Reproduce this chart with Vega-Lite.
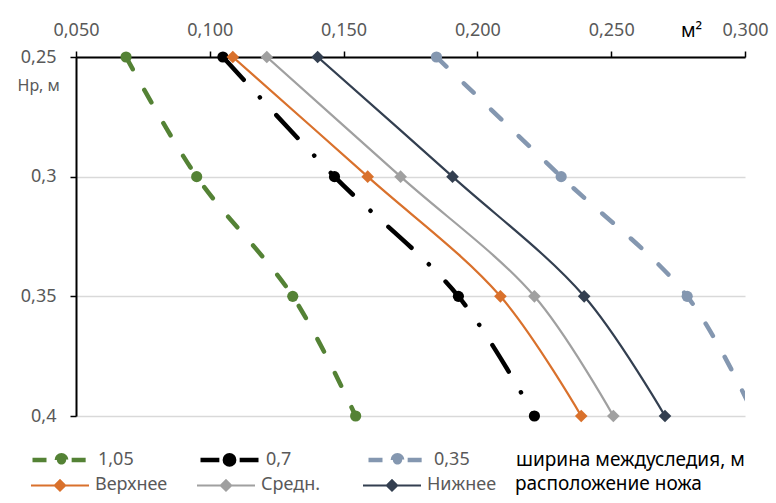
{
  "$schema": "https://vega.github.io/schema/vega-lite/v6.json",
  "width": 669,
  "height": 359,
  "autosize": {"type": "none"},
  "padding": {"left": 76, "top": 57, "right": 31, "bottom": 87},
  "background": "white",
  "config": {
    "font": "Noto Sans",
    "view": {"stroke": null}
  },
  "datasets": {
    "w": [
      {"s": "1,05", "x": 0.0687, "y": 0.25},
      {"s": "1,05", "x": 0.0951, "y": 0.30},
      {"s": "1,05", "x": 0.1310, "y": 0.35},
      {"s": "1,05", "x": 0.1545, "y": 0.40},
      {"s": "0,7", "x": 0.1049, "y": 0.25},
      {"s": "0,7", "x": 0.1466, "y": 0.30},
      {"s": "0,7", "x": 0.1929, "y": 0.35},
      {"s": "0,7", "x": 0.2213, "y": 0.40},
      {"s": "0,35", "x": 0.1847, "y": 0.25},
      {"s": "0,35", "x": 0.2313, "y": 0.30},
      {"s": "0,35", "x": 0.2784, "y": 0.35},
      {"s": "0,35", "x": 0.3035, "y": 0.40}
    ],
    "k": [
      {"p": "Верхнее", "x": 0.1086, "y": 0.25},
      {"p": "Верхнее", "x": 0.1590, "y": 0.30},
      {"p": "Верхнее", "x": 0.2086, "y": 0.35},
      {"p": "Верхнее", "x": 0.2388, "y": 0.40},
      {"p": "Средн.", "x": 0.1213, "y": 0.25},
      {"p": "Средн.", "x": 0.1713, "y": 0.30},
      {"p": "Средн.", "x": 0.2213, "y": 0.35},
      {"p": "Средн.", "x": 0.2508, "y": 0.40},
      {"p": "Нижнее", "x": 0.1403, "y": 0.25},
      {"p": "Нижнее", "x": 0.1907, "y": 0.30},
      {"p": "Нижнее", "x": 0.2399, "y": 0.35},
      {"p": "Нижнее", "x": 0.2701, "y": 0.40}
    ]
  },
  "encoding": {
    "x": {
      "field": "x", "type": "quantitative",
      "scale": {"domain": [0.05, 0.3], "nice": false, "zero": false},
      "axis": {
        "orient": "top",
        "values": [0.05, 0.1, 0.15, 0.2, 0.25, 0.3],
        "labelExpr": "replace(format(datum.value, '.3f'), '.', ',')",
        "labelFlush": false, "labelOverlap": false,
        "grid": false,
        "domainColor": "black", "domainWidth": 2,
        "tickColor": "black", "tickWidth": 1.5, "tickSize": 6,
        "encode": {"ticks": {"update": {"y": {"value": 6}}}},
        "labelColor": "#595959", "labelFontSize": 18, "labelPadding": 12,
        "title": "м²", "titleColor": "black", "titleFontSize": 19, "titleFontWeight": "normal",
        "titleAngle": 0, "titleX": 615, "titleY": -27, "titleAlign": "center", "titleBaseline": "middle"
      }
    },
    "y": {
      "field": "y", "type": "quantitative",
      "scale": {"domain": [0.25, 0.4], "reverse": true, "nice": false, "zero": false},
      "axis": {
        "orient": "left",
        "values": [0.25, 0.3, 0.35, 0.4],
        "labelExpr": "replace(format(datum.value, '.2~f'), '.', ',')",
        "labelFlush": false, "labelOverlap": false,
        "grid": true, "gridColor": "#d9d9d9", "gridWidth": 1.5,
        "domainColor": "black", "domainWidth": 2,
        "tickColor": "black", "tickWidth": 1.5, "tickSize": 6,
        "encode": {"ticks": {"update": {"x": {"value": 6}}}},
        "labelColor": "#595959", "labelFontSize": 18, "labelPadding": 14,
        "title": "Нр, м", "titleColor": "#595959", "titleFontSize": 16, "titleFontWeight": "normal",
        "titleAngle": 0, "titleX": -59, "titleY": 28, "titleAlign": "left", "titleBaseline": "middle"
      }
    }
  },
  "layer": [
    {
      "data": {"name": "w"},
      "layer": [
        {
          "mark": {"type": "line", "interpolate": "catmull-rom", "strokeWidth": 4.5, "strokeCap": "round", "clip": true},
          "encoding": {
            "stroke": {
              "field": "s", "type": "nominal",
              "scale": {"domain": ["1,05", "0,7", "0,35"], "range": ["#548235", "#000000", "#8497B0"]},
              "legend": {
                "orient": "none", "legendX": -46, "legendY": 371,
                "direction": "horizontal", "columns": 3, "gridAlign": "all", "columnPadding": 57,
                "title": "ширина междуследия, м", "titleOrient": "right", "titlePadding": 46, "titleLimit": 400,
                "titleAnchor": "middle", "titleBaseline": "top",
                "titleColor": "black", "titleFontSize": 19, "titleFontWeight": "normal",
                "labelColor": "#595959", "labelFontSize": 18, "labelOffset": 5,
                "symbolType": "M-1,0H-0.35M0.35,0H1M-0.16,0A0.16,0.16,0,1,1,0.16,0A0.16,0.16,0,1,1,-0.16,0Z",
                "symbolSize": 3364, "symbolStrokeWidth": 4.5
              }
            },
            "strokeDash": {
              "field": "s", "type": "nominal",
              "scale": {"domain": ["1,05", "0,7", "0,35"], "range": [[14, 24], [31, 24, 0.1, 24], [14, 24]]},
              "legend": null
            }
          }
        },
        {
          "transform": [{"filter": "datum.x <= 0.3"}],
          "mark": {"type": "point", "shape": "circle", "filled": true, "size": 125, "opacity": 1, "clip": false},
          "encoding": {
            "fill": {
              "field": "s", "type": "nominal",
              "scale": {"domain": ["1,05", "0,7", "0,35"], "range": ["#548235", "#000000", "#8497B0"]},
              "legend": {
                "orient": "none", "legendX": -46, "legendY": 371,
                "direction": "horizontal", "columns": 3, "gridAlign": "all", "columnPadding": 57,
                "title": "ширина междуследия, м", "titleOrient": "right", "titlePadding": 46, "titleLimit": 400,
                "titleAnchor": "middle", "titleBaseline": "top",
                "titleColor": "black", "titleFontSize": 19, "titleFontWeight": "normal",
                "labelColor": "#595959", "labelFontSize": 18, "labelOffset": 5,
                "symbolType": "M-1,0H-0.35M0.35,0H1M-0.16,0A0.16,0.16,0,1,1,0.16,0A0.16,0.16,0,1,1,-0.16,0Z",
                "symbolSize": 3364, "symbolStrokeWidth": 4.5
              }
            }
          }
        }
      ]
    },
    {
      "data": {"name": "k"},
      "layer": [
        {
          "mark": {"type": "line", "interpolate": "catmull-rom", "strokeWidth": 2.2, "clip": true},
          "encoding": {
            "stroke": {
              "field": "p", "type": "nominal",
              "scale": {"domain": ["Верхнее", "Средн.", "Нижнее"], "range": ["#D9712C", "#A0A0A0", "#333F50"]},
              "legend": {
                "orient": "none", "legendX": -46, "legendY": 398,
                "direction": "horizontal", "columns": 3, "gridAlign": "all", "columnPadding": 25,
                "title": "расположение ножа", "titleOrient": "right", "titlePadding": 19, "titleLimit": 400,
                "titleAnchor": "middle", "titleBaseline": "top",
                "titleColor": "black", "titleFontSize": 19, "titleFontWeight": "normal",
                "labelColor": "#595959", "labelFontSize": 18, "labelOffset": 5,
                "symbolType": "M-1,0H1M0,-0.18L0.18,0L0,0.18L-0.18,0Z",
                "symbolSize": 3364, "symbolStrokeWidth": 2
              }
            }
          }
        },
        {
          "mark": {"type": "point", "shape": "diamond", "filled": true, "size": 160, "opacity": 1, "clip": false},
          "encoding": {
            "fill": {
              "field": "p", "type": "nominal",
              "scale": {"domain": ["Верхнее", "Средн.", "Нижнее"], "range": ["#D9712C", "#A0A0A0", "#333F50"]},
              "legend": {
                "orient": "none", "legendX": -46, "legendY": 398,
                "direction": "horizontal", "columns": 3, "gridAlign": "all", "columnPadding": 25,
                "title": "расположение ножа", "titleOrient": "right", "titlePadding": 19, "titleLimit": 400,
                "titleAnchor": "middle", "titleBaseline": "top",
                "titleColor": "black", "titleFontSize": 19, "titleFontWeight": "normal",
                "labelColor": "#595959", "labelFontSize": 18, "labelOffset": 5,
                "symbolType": "M-1,0H1M0,-0.18L0.18,0L0,0.18L-0.18,0Z",
                "symbolSize": 3364, "symbolStrokeWidth": 2
              }
            }
          }
        }
      ]
    }
  ],
  "resolve": {"scale": {"stroke": "independent", "fill": "independent", "strokeDash": "independent"}}
}
